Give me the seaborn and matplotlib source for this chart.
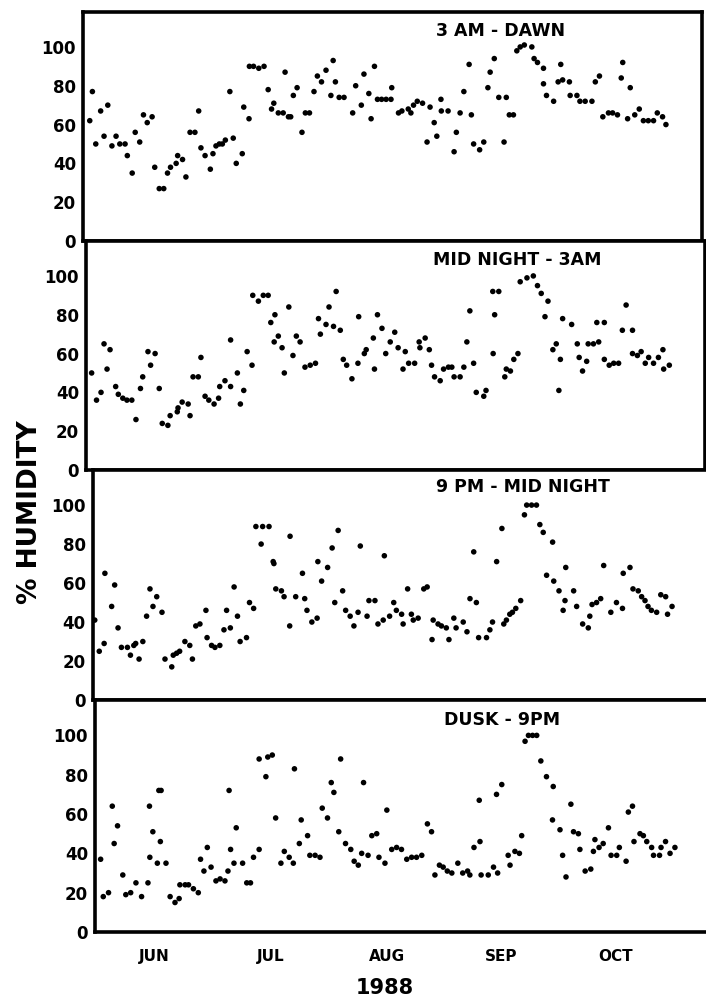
"""Relative humidity scatter, four night-time intervals, Jun-Oct 1988."""

import matplotlib
matplotlib.use("Agg")
import matplotlib.pyplot as plt
import seaborn as sns
import pandas as pd

sns.set_theme(style="white")
plt.rcParams["font.family"] = ["DejaVu Sans"]
plt.rcParams["font.weight"] = "bold"
plt.rcParams["text.color"] = "black"
plt.rcParams["xtick.color"] = "black"
plt.rcParams["ytick.color"] = "black"
plt.rcParams["axes.labelcolor"] = "black"

# day = days since 1 June 1988, value = % humidity
dawn = [
    (0.6, 62), (1.3, 77), (2.2, 50), (3.5, 67), (4.4, 54), (5.4, 70), (6.5, 49), (7.6, 54),
    (8.6, 50), (10.0, 50), (10.6, 44), (11.9, 35), (12.7, 56), (13.9, 51), (14.9, 65),
    (15.9, 61), (17.2, 64), (17.9, 38), (19.1, 27), (20.3, 27), (21.3, 35), (22.1, 38),
    (23.6, 40), (24.0, 44), (25.3, 42), (26.2, 33), (27.3, 56), (28.6, 56), (29.6, 67),
    (30.2, 48), (31.3, 44), (32.7, 37), (33.4, 45), (34.2, 49), (35.1, 50), (35.9, 50),
    (36.7, 52), (37.9, 77), (38.8, 53), (39.6, 40), (41.2, 45), (41.6, 69), (43.0, 63),
    (43.1, 90), (44.2, 90), (45.6, 89), (47.0, 90), (48.1, 78), (49.0, 68), (49.6, 71),
    (50.8, 66), (52.1, 66), (52.6, 87), (53.5, 64), (54.1, 64), (54.8, 75), (55.8, 79),
    (57.1, 56), (58.0, 66), (59.1, 66), (60.3, 77), (61.2, 85), (62.3, 82), (63.5, 88),
    (64.8, 75), (65.4, 93), (66.0, 82), (67.0, 74), (68.3, 74), (70.6, 66), (71.4, 80),
    (72.9, 70), (73.6, 86), (74.9, 76), (75.5, 63), (76.4, 90), (77.2, 73), (78.3, 73),
    (79.5, 73), (80.8, 73), (81.0, 79), (82.8, 66), (83.7, 67), (85.4, 68), (86.1, 66),
    (86.8, 70), (87.8, 72), (89.2, 71), (90.4, 51), (91.2, 69), (92.3, 61), (93.0, 54),
    (94.1, 73), (94.2, 67), (96.0, 67), (97.6, 46), (98.2, 56), (99.2, 66), (100.2, 77),
    (101.6, 91), (102.2, 65), (102.8, 50), (104.4, 47), (105.5, 51), (106.6, 79),
    (107.2, 87), (108.3, 94), (109.5, 74), (110.9, 51), (111.5, 74), (112.3, 65),
    (113.4, 65), (114.3, 98), (115.2, 100), (116.3, 101), (118.3, 100), (118.9, 94),
    (119.8, 92), (121.4, 89), (121.4, 81), (122.2, 75), (124.1, 72), (125.3, 82),
    (126.0, 91), (126.5, 83), (128.3, 82), (128.5, 75), (130.3, 75), (131.1, 72),
    (132.5, 72), (134.3, 72), (135.2, 82), (136.3, 85), (137.2, 64), (138.7, 66),
    (139.8, 66), (141.1, 65), (142.1, 84), (142.5, 92), (143.8, 63), (144.5, 79),
    (145.7, 65), (146.9, 68), (148.0, 62), (149.3, 62), (150.7, 62), (151.7, 66),
    (153.1, 64), (154.0, 60),
]

midnight_3am = [
    (0.3, 50), (1.6, 36), (2.8, 40), (3.6, 65), (4.4, 52), (5.2, 62), (6.7, 43), (7.4, 39),
    (8.6, 37), (9.7, 36), (11.0, 36), (12.1, 26), (13.3, 42), (13.9, 48), (15.3, 61),
    (16.0, 54), (17.2, 60), (18.3, 42), (19.1, 24), (20.6, 23), (21.2, 28), (23.1, 30),
    (23.3, 32), (24.4, 35), (26.0, 34), (26.5, 28), (27.3, 48), (28.7, 48), (29.4, 58),
    (30.5, 38), (31.5, 36), (32.9, 34), (34.1, 37), (34.4, 43), (35.8, 46), (37.3, 43),
    (37.3, 67), (39.1, 50), (39.9, 34), (40.8, 41), (41.7, 61), (43.0, 54), (43.2, 90),
    (44.7, 87), (46.0, 90), (47.3, 90), (48.0, 76), (48.9, 66), (49.1, 80), (50.0, 69),
    (51.0, 63), (51.6, 50), (52.8, 84), (53.9, 59), (54.8, 69), (55.8, 66), (57.1, 53),
    (58.5, 54), (59.9, 55), (60.7, 78), (61.2, 70), (62.7, 75), (63.5, 84), (64.7, 74),
    (65.4, 92), (66.5, 72), (67.3, 57), (68.2, 54), (69.6, 47), (71.2, 55), (71.4, 79),
    (72.9, 60), (73.4, 62), (75.3, 68), (75.6, 52), (76.4, 80), (77.6, 73), (78.6, 60),
    (79.8, 66), (81.0, 71), (81.9, 63), (83.2, 52), (83.8, 61), (84.7, 55), (86.3, 55),
    (87.5, 66), (87.7, 63), (89.1, 68), (90.2, 62), (90.8, 54), (91.6, 48), (93.1, 46),
    (94.0, 52), (95.3, 53), (96.2, 53), (96.8, 48), (98.4, 48), (99.4, 53), (100.2, 66),
    (101.0, 82), (102.0, 55), (102.7, 40), (104.7, 38), (105.3, 41), (107.1, 92),
    (107.2, 60), (107.6, 80), (108.7, 92), (110.3, 48), (110.7, 52), (111.8, 51),
    (112.7, 57), (113.8, 60), (114.4, 97), (116.2, 99), (117.9, 100), (119.0, 95),
    (120.0, 91), (121.0, 79), (121.8, 87), (123.1, 62), (124.0, 65), (124.7, 41),
    (125.1, 57), (125.7, 78), (128.1, 75), (129.6, 65), (130.1, 58), (131.0, 51),
    (132.1, 56), (132.5, 65), (133.9, 65), (134.8, 76), (135.3, 66), (136.8, 76),
    (136.8, 57), (138.1, 54), (139.3, 55), (140.6, 55), (141.6, 72), (142.6, 85),
    (144.3, 72), (144.3, 60), (145.6, 59), (146.6, 61), (147.7, 55), (148.6, 58),
    (149.9, 55), (151.2, 58), (152.4, 62), (152.6, 52), (154.1, 54),
]

pm9_midnight = [
    (-0.6, 41), (0.6, 25), (1.9, 29), (2.1, 65), (3.9, 48), (4.7, 59), (5.6, 37), (6.5, 27),
    (8.1, 27), (8.9, 23), (9.8, 28), (10.3, 29), (11.2, 21), (12.2, 30), (13.2, 43),
    (14.1, 57), (14.9, 48), (15.9, 53), (17.3, 45), (18.1, 21), (19.9, 17), (20.3, 23),
    (21.2, 24), (22.0, 25), (23.4, 30), (24.7, 28), (25.4, 21), (26.3, 38), (27.4, 39),
    (29.0, 46), (29.3, 32), (30.5, 28), (31.4, 27), (32.7, 28), (33.8, 36), (34.5, 46),
    (35.5, 37), (36.5, 58), (37.4, 43), (38.1, 30), (39.8, 32), (40.6, 50), (41.7, 47),
    (42.3, 89), (43.7, 80), (44.1, 89), (45.8, 89), (46.9, 71), (47.1, 70), (47.6, 57),
    (49.1, 56), (49.8, 53), (51.3, 38), (51.4, 84), (52.9, 53), (54.7, 65), (55.3, 52),
    (55.9, 46), (57.2, 40), (58.6, 42), (58.8, 71), (59.8, 61), (61.4, 68), (62.6, 78),
    (63.3, 50), (64.2, 87), (65.4, 56), (66.2, 46), (67.4, 43), (68.4, 38), (69.5, 45),
    (70.1, 79), (71.9, 43), (72.4, 51), (74.0, 51), (74.8, 39), (76.2, 41), (76.5, 74),
    (77.9, 43), (79.0, 50), (79.7, 46), (81.1, 44), (81.5, 39), (82.7, 57), (83.7, 44),
    (84.2, 41), (85.5, 42), (87.0, 57), (87.9, 58), (89.2, 31), (89.5, 41), (90.8, 39),
    (91.7, 38), (93.0, 37), (93.7, 31), (95.0, 42), (95.6, 37), (97.5, 40), (98.5, 35),
    (99.3, 52), (100.3, 76), (101.0, 50), (101.6, 32), (103.7, 32), (104.6, 36),
    (105.3, 40), (106.4, 71), (107.8, 88), (108.3, 39), (109.0, 41), (109.9, 44),
    (110.6, 45), (111.5, 47), (112.8, 51), (113.8, 95), (114.4, 100), (115.7, 100),
    (117.0, 100), (117.9, 90), (118.8, 86), (119.7, 64), (121.3, 81), (121.6, 61),
    (123.0, 56), (124.1, 46), (124.6, 51), (124.8, 68), (126.9, 56), (127.7, 48),
    (129.3, 39), (130.8, 37), (131.2, 43), (131.8, 49), (133.0, 50), (134.1, 52),
    (134.9, 69), (136.8, 45), (138.3, 50), (139.9, 47), (140.1, 65), (141.9, 68),
    (142.7, 57), (144.1, 56), (145.0, 53), (145.9, 51), (146.7, 48), (147.6, 46),
    (149.0, 45), (150.1, 54), (151.4, 53), (151.9, 44), (153.1, 48),
]

dusk_9pm = [
    (0.3, 37), (1.0, 18), (2.4, 20), (3.4, 64), (3.9, 45), (4.8, 54), (6.2, 29), (7.0, 19),
    (8.3, 20), (9.7, 25), (11.2, 18), (12.9, 25), (13.3, 64), (13.4, 38), (14.2, 51),
    (15.4, 35), (15.8, 72), (16.2, 46), (16.4, 72), (17.7, 35), (18.8, 18), (20.1, 15),
    (21.2, 17), (21.4, 24), (22.8, 24), (23.7, 24), (25.0, 22), (26.3, 20), (26.9, 37),
    (27.8, 31), (28.7, 43), (29.7, 33), (31.0, 26), (32.1, 27), (33.4, 26), (34.2, 31),
    (34.5, 72), (34.9, 42), (35.8, 35), (36.4, 53), (38.1, 35), (39.2, 25), (40.2, 25),
    (41.0, 38), (42.5, 42), (42.5, 88), (44.3, 79), (44.8, 89), (46.0, 90), (46.9, 58),
    (48.3, 35), (49.2, 41), (50.5, 38), (51.6, 35), (51.9, 83), (53.2, 45), (53.7, 57),
    (55.4, 49), (56.0, 39), (57.4, 39), (58.7, 38), (59.3, 63), (60.7, 58), (61.7, 76),
    (62.4, 71), (63.7, 51), (64.2, 88), (65.5, 45), (66.9, 42), (67.8, 36), (68.9, 34),
    (69.8, 40), (70.3, 76), (71.5, 39), (72.5, 49), (73.8, 50), (74.4, 38), (76.0, 35),
    (76.5, 62), (77.8, 42), (79.1, 43), (80.4, 42), (81.8, 37), (83.1, 38), (84.4, 38),
    (85.8, 39), (87.3, 55), (88.4, 51), (89.3, 29), (90.5, 34), (91.5, 33), (92.6, 31),
    (93.8, 30), (95.4, 35), (96.7, 30), (98.0, 31), (98.6, 29), (99.7, 43), (101.1, 67),
    (101.3, 46), (101.6, 29), (103.5, 29), (104.9, 33), (105.7, 70), (106.0, 30),
    (107.1, 75), (108.8, 39), (109.3, 34), (110.6, 41), (111.8, 40), (112.4, 49),
    (113.3, 97), (114.2, 100), (115.3, 100), (116.4, 100), (117.5, 87), (119.0, 79),
    (120.6, 57), (120.8, 74), (122.6, 52), (123.3, 39), (124.2, 28), (125.5, 65),
    (126.2, 51), (127.5, 50), (127.9, 42), (129.3, 31), (130.8, 32), (131.5, 41),
    (131.9, 47), (133.0, 43), (134.1, 45), (135.5, 53), (136.2, 39), (137.7, 39),
    (138.4, 43), (140.2, 36), (140.8, 61), (141.9, 64), (142.3, 46), (143.9, 50),
    (144.8, 49), (145.7, 46), (147.0, 43), (147.5, 39), (149.1, 39), (149.5, 43),
    (150.7, 46), (151.9, 40), (153.2, 43),
]

panel_titles = ["3 AM - DAWN", "MID NIGHT - 3AM", "9 PM - MID NIGHT", "DUSK - 9PM"]
y_ticks = [0, 20, 40, 60, 80, 100]
month_starts = [30, 61, 92, 122, 153]          # 1 Jul .. 1 Nov
month_mids = [14.5, 45.5, 76.5, 107, 137.5]
month_labels = ["JUN", "JUL", "AUG", "SEP", "OCT"]

# panel frames in pixels (left, top, bottom); the scan is slightly skewed
frames = [(83, 12, 241), (86, 241, 470), (92.5, 470, 700), (95, 700, 932)]
title_pos = [(0.675, 0.915), (0.696, 0.915), (0.695, 0.925), (0.657, 0.913)]
W, H = 706, 1005
width_px = 619

fig = plt.figure(figsize=(W / 100, H / 100), dpi=100)

for i, (series, title) in enumerate(zip([dawn, midnight_3am, pm9_midnight, dusk_9pm], panel_titles)):
    left, top, bottom = frames[i]
    ax = fig.add_axes([left / W, 1 - bottom / H, width_px / W, (bottom - top) / H])
    df = pd.DataFrame(series, columns=["day", "humidity"])
    sns.scatterplot(data=df, x="day", y="humidity", ax=ax, color="black",
                    s=16, edgecolor="none", linewidth=0, legend=False)
    ax.set_xlim(-1.2, -1.2 + width_px / 3.756)
    ax.set_ylim(0, 118)
    ax.set_yticks(y_ticks)
    ax.set_yticklabels([str(v) for v in y_ticks], fontsize=12, fontweight="bold")
    ax.tick_params(axis="y", length=0, pad=5)
    ax.set_xlabel("")
    ax.set_ylabel("")
    for sp in ax.spines.values():
        sp.set_linewidth(2.6)
        sp.set_color("black")
    ax.text(title_pos[i][0], title_pos[i][1], title, transform=ax.transAxes,
            ha="center", va="center", fontsize=12.5, fontweight="bold", color="black")
    if i < 3:
        ax.set_xticks([])
    else:
        ax.set_xticks(month_starts)
        ax.set_xticklabels([])
        ax.tick_params(axis="x", which="major", direction="in", length=10, width=2, color="black")
        ax.set_xticks(month_mids, minor=True)
        ax.set_xticklabels(month_labels, minor=True, fontsize=11, fontweight="bold")
        ax.tick_params(axis="x", which="minor", length=0, pad=12)

fig.text(30 / W, 1 - 512 / H, "% HUMIDITY", rotation=90, ha="center", va="center",
         fontsize=19, fontweight="bold", color="black")
fig.text(385 / W, 1 - 988 / H, "1988", ha="center", va="center",
         fontsize=15, fontweight="bold", color="black")

fig.savefig("out.png", dpi=100, facecolor="white")
